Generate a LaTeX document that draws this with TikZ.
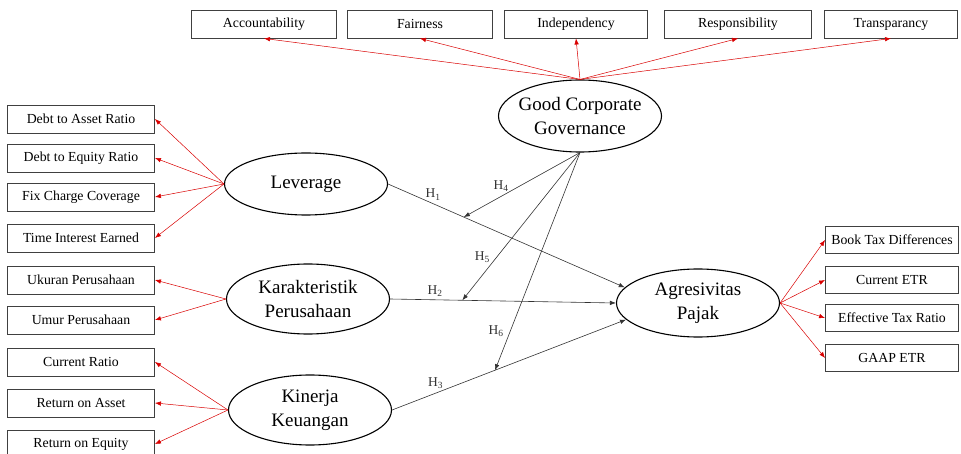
\documentclass[tikz,border=0pt]{standalone}
\usepackage{fontspec}
\setmainfont{Liberation Serif}
\usetikzlibrary{shapes.geometric, arrows.meta, positioning}

\begin{document}
\begin{tikzpicture}[x=1pt, y=-1pt,
  ind/.style={draw=black!75, line width=0.9pt, minimum width=147, minimum height=28, inner sep=0, font=\fontsize{13.8}{15}\selectfont},
  lat/.style={ellipse, draw, line width=1.1pt, minimum width=163, minimum height=68, inner sep=0, align=center, font=\fontsize{19}{24}\selectfont},
  refl/.style={-{Latex[length=6pt, width=4.5pt]}, red!85!black, line width=0.5pt},
  hyp/.style={-{Latex[length=6pt, width=4.5pt]}, black!80, line width=0.6pt},
  hlab/.style={font=\fontsize{13.5}{15}\selectfont}]

\useasboundingbox (0,0) rectangle (961,454);

% laten
\node[lat, minimum height=72, inner xsep=-6pt] (gcg) at (580,116) {Good Corporate\\Governance};
\node[lat, minimum height=62] (lev) at (306,184) {Leverage};
\node[lat, minimum height=70] (kar) at (308,299) {Karakteristik\\Perusahaan};
\node[lat, minimum height=70] (kin) at (310,410) {Kinerja\\Keuangan};
\node[lat, minimum height=68] (agr) at (698,303) {Agresivitas\\Pajak};

% indikator GCG
\node[ind, minimum width=145] (acc) at (264,24) {Accountability};
\node[ind, minimum width=145] (fair) at (420,24) {Fairness};
\node[ind, minimum width=143] (indep) at (576,24) {Independency};
\node[ind, minimum width=147] (resp) at (738,24) {Responsibility};
\node[ind, minimum width=133] (trans) at (891,24) {Transparancy};

% indikator kiri
\node[ind] (dar) at (81,119) {Debt to Asset Ratio};
\node[ind] (der) at (81,158) {Debt to Equity Ratio};
\node[ind] (fcc) at (81,197) {Fix Charge Coverage};
\node[ind] (tie) at (81,238) {Time Interest Earned};
\node[ind] (uku) at (81,280) {Ukuran Perusahaan};
\node[ind] (umr) at (81,320) {Umur Perusahaan};
\node[ind] (cr) at (81,362) {Current Ratio};
\node[ind] (roa) at (81,403) {Return on Asset};
\node[ind] (roe) at (81,444) {Return on Equity};

% indikator agresivitas
\node[ind, minimum width=133, minimum height=27] (btd) at (892,240) {Book Tax Differences};
\node[ind, minimum width=133, minimum height=27] (cetr) at (892,280) {Current ETR};
\node[ind, minimum width=133, minimum height=27] (etr) at (892,318) {Effective Tax Ratio};
\node[ind, minimum width=133, minimum height=27] (gaap) at (892,358) {GAAP ETR};

% panah indikator
\draw[refl] (gcg.north) -- (acc.south);
\draw[refl] (gcg.north) -- (fair.south);
\draw[refl] (gcg.north) -- (indep.south);
\draw[refl] (gcg.north) -- (resp.south);
\draw[refl] (gcg.north) -- (trans.south);

\draw[refl] (lev.west) -- (dar.east);
\draw[refl] (lev.west) -- (der.east);
\draw[refl] (lev.west) -- (fcc.east);
\draw[refl] (lev.west) -- (tie.east);

\draw[refl] (kar.west) -- (uku.east);
\draw[refl] (kar.west) -- (umr.east);

\draw[refl] (kin.west) -- (cr.east);
\draw[refl] (kin.west) -- (roa.east);
\draw[refl] (kin.west) -- (roe.east);

\draw[refl] (agr.east) -- (btd.west);
\draw[refl] (agr.east) -- (cetr.west);
\draw[refl] (agr.east) -- (etr.west);
\draw[refl] (agr.east) -- (gaap.west);

% hipotesis
\draw[hyp] (lev.east) -- node[hlab, pos=0.19, above] (h1) {H\textsubscript{1}} coordinate[pos=0.32] (m1) (agr.168);
\draw[hyp] (kar.east) -- node[hlab, pos=0.2, above] (h2) {H\textsubscript{2}} coordinate[pos=0.32] (m2) (agr.west);
\draw[hyp] (kin.east) -- node[hlab, pos=0.186, above=1pt] (h3) {H\textsubscript{3}} coordinate[pos=0.44] (m3) (agr.193);

\draw[hyp] (gcg.south) -- node[hlab, pos=0.68, above=1pt] (h4) {H\textsubscript{4}} (m1);
\draw[hyp] (gcg.south) -- node[hlab, pos=0.71, left=3pt] (h5) {H\textsubscript{5}} (m2);
\draw[hyp] (gcg.south) -- node[hlab, pos=0.82, left=3pt] (h6) {H\textsubscript{6}} (m3);

\end{tikzpicture}
\end{document}
